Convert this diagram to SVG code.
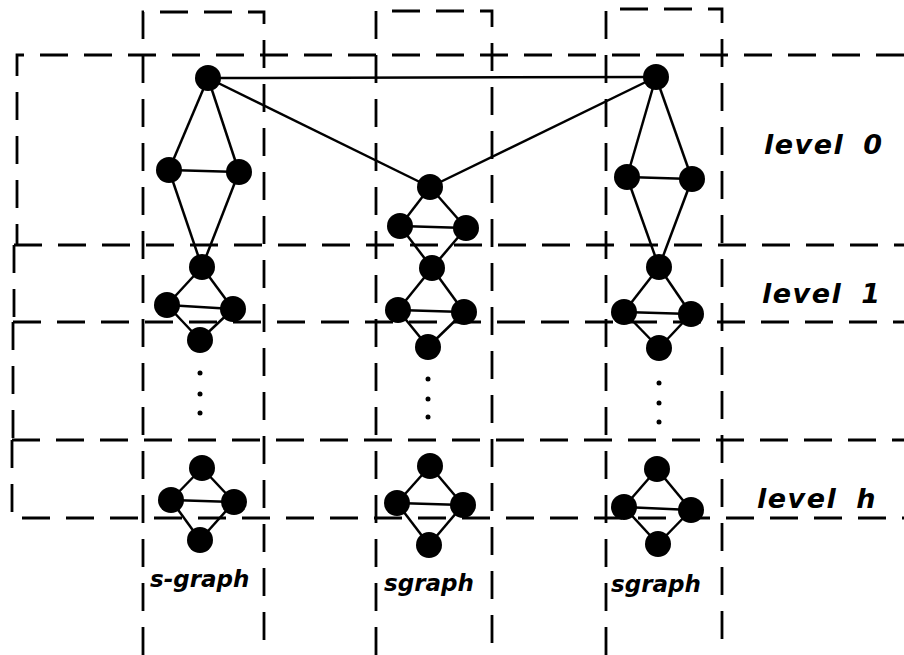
<svg xmlns="http://www.w3.org/2000/svg" width="904" height="655" viewBox="0 0 904 655">
  <style>
    .frame { fill: none; stroke: #000; stroke-width: 2.8; stroke-dasharray: 28 16; }
    .edge { stroke: #000; stroke-width: 2.5; fill: none; }
    .node { fill: #000; }
    .dot { fill: #000; }
    .lvl { font-family: "DejaVu Sans", "Liberation Sans", sans-serif; font-style: oblique; font-weight: bold; font-size: 27px; letter-spacing: 1.5px; word-spacing: 8px; fill: #000; }
    .sg { font-family: "DejaVu Sans", "Liberation Sans", sans-serif; font-style: oblique; font-weight: bold; font-size: 23px; fill: #000; }
  </style>

  <!-- level bands (open towards the right) -->
  <g id="bands">
    <path class="frame" d="M904,55 H17 V245"/>
    <path class="frame" d="M14,245 H904"/>
    <path class="frame" d="M14,245 V322"/>
    <path class="frame" d="M13,322 H904"/>
    <path class="frame" d="M13,322 V440"/>
    <path class="frame" d="M12,440 H904"/>
    <path class="frame" d="M12,440 V518 H904"/>
  </g>

  <!-- s-graph columns (open towards the bottom) -->
  <g id="columns">
    <path class="frame" d="M143,655 V12 H264 V655"/>
    <path class="frame" d="M376,655 V11 H492 V655"/>
    <path class="frame" d="M606,655 V9 H722 V655"/>
  </g>

  <g id="connectors">
    <!-- level 0 links between the s-graphs -->
    <line class="edge" x1="208" y1="78" x2="656" y2="77"/>
    <line class="edge" x1="208" y1="78" x2="430" y2="187"/>
    <line class="edge" x1="656" y1="77" x2="430" y2="187"/>
    <!-- column 1, level 0 -->
    <line class="edge" x1="208" y1="78" x2="169" y2="170"/>
    <line class="edge" x1="208" y1="78" x2="239" y2="172"/>
    <line class="edge" x1="169" y1="170" x2="239" y2="172"/>
    <line class="edge" x1="169" y1="170" x2="202" y2="267"/>
    <line class="edge" x1="239" y1="172" x2="202" y2="267"/>
    <!-- column 1, level 1 -->
    <line class="edge" x1="202" y1="267" x2="167" y2="305"/>
    <line class="edge" x1="202" y1="267" x2="233" y2="309"/>
    <line class="edge" x1="167" y1="305" x2="233" y2="309"/>
    <line class="edge" x1="167" y1="305" x2="200" y2="340"/>
    <line class="edge" x1="233" y1="309" x2="200" y2="340"/>
    <!-- column 1, level h -->
    <line class="edge" x1="202" y1="468" x2="171" y2="500"/>
    <line class="edge" x1="202" y1="468" x2="234" y2="502"/>
    <line class="edge" x1="171" y1="500" x2="234" y2="502"/>
    <line class="edge" x1="171" y1="500" x2="200" y2="540"/>
    <line class="edge" x1="234" y1="502" x2="200" y2="540"/>
    <!-- column 2, level 0 -->
    <line class="edge" x1="430" y1="187" x2="400" y2="226"/>
    <line class="edge" x1="430" y1="187" x2="466" y2="228"/>
    <line class="edge" x1="400" y1="226" x2="466" y2="228"/>
    <line class="edge" x1="400" y1="226" x2="432" y2="268"/>
    <line class="edge" x1="466" y1="228" x2="432" y2="268"/>
    <!-- column 2, level 1 -->
    <line class="edge" x1="432" y1="268" x2="398" y2="310"/>
    <line class="edge" x1="432" y1="268" x2="464" y2="312"/>
    <line class="edge" x1="398" y1="310" x2="464" y2="312"/>
    <line class="edge" x1="398" y1="310" x2="428" y2="347"/>
    <line class="edge" x1="464" y1="312" x2="428" y2="347"/>
    <!-- column 2, level h -->
    <line class="edge" x1="430" y1="466" x2="397" y2="503"/>
    <line class="edge" x1="430" y1="466" x2="463" y2="505"/>
    <line class="edge" x1="397" y1="503" x2="463" y2="505"/>
    <line class="edge" x1="397" y1="503" x2="429" y2="545"/>
    <line class="edge" x1="463" y1="505" x2="429" y2="545"/>
    <!-- column 3, level 0 -->
    <line class="edge" x1="656" y1="77" x2="627" y2="177"/>
    <line class="edge" x1="656" y1="77" x2="692" y2="179"/>
    <line class="edge" x1="627" y1="177" x2="692" y2="179"/>
    <line class="edge" x1="627" y1="177" x2="659" y2="267"/>
    <line class="edge" x1="692" y1="179" x2="659" y2="267"/>
    <!-- column 3, level 1 -->
    <line class="edge" x1="659" y1="267" x2="624" y2="312"/>
    <line class="edge" x1="659" y1="267" x2="691" y2="314"/>
    <line class="edge" x1="624" y1="312" x2="691" y2="314"/>
    <line class="edge" x1="624" y1="312" x2="659" y2="348"/>
    <line class="edge" x1="691" y1="314" x2="659" y2="348"/>
    <!-- column 3, level h -->
    <line class="edge" x1="657" y1="469" x2="624" y2="507"/>
    <line class="edge" x1="657" y1="469" x2="691" y2="510"/>
    <line class="edge" x1="624" y1="507" x2="691" y2="510"/>
    <line class="edge" x1="624" y1="507" x2="658" y2="544"/>
    <line class="edge" x1="691" y1="510" x2="658" y2="544"/>
  </g>

  <!-- column 1 -->
  <g id="n1-0t"><circle class="node" cx="208" cy="78" r="13"/></g>
  <g id="n1-0l"><circle class="node" cx="169" cy="170" r="13"/></g>
  <g id="n1-0r"><circle class="node" cx="239" cy="172" r="13"/></g>
  <g id="n1-1t"><circle class="node" cx="202" cy="267" r="13"/></g>
  <g id="n1-1l"><circle class="node" cx="167" cy="305" r="13"/></g>
  <g id="n1-1r"><circle class="node" cx="233" cy="309" r="13"/></g>
  <g id="n1-1b"><circle class="node" cx="200" cy="340" r="13"/></g>
  <g id="n1-ht"><circle class="node" cx="202" cy="468" r="13"/></g>
  <g id="n1-hl"><circle class="node" cx="171" cy="500" r="13"/></g>
  <g id="n1-hr"><circle class="node" cx="234" cy="502" r="13"/></g>
  <g id="n1-hb"><circle class="node" cx="200" cy="540" r="13"/></g>

  <!-- column 2 -->
  <g id="n2-0t"><circle class="node" cx="430" cy="187" r="13"/></g>
  <g id="n2-0l"><circle class="node" cx="400" cy="226" r="13"/></g>
  <g id="n2-0r"><circle class="node" cx="466" cy="228" r="13"/></g>
  <g id="n2-1t"><circle class="node" cx="432" cy="268" r="13"/></g>
  <g id="n2-1l"><circle class="node" cx="398" cy="310" r="13"/></g>
  <g id="n2-1r"><circle class="node" cx="464" cy="312" r="13"/></g>
  <g id="n2-1b"><circle class="node" cx="428" cy="347" r="13"/></g>
  <g id="n2-ht"><circle class="node" cx="430" cy="466" r="13"/></g>
  <g id="n2-hl"><circle class="node" cx="397" cy="503" r="13"/></g>
  <g id="n2-hr"><circle class="node" cx="463" cy="505" r="13"/></g>
  <g id="n2-hb"><circle class="node" cx="429" cy="545" r="13"/></g>

  <!-- column 3 -->
  <g id="n3-0t"><circle class="node" cx="656" cy="77" r="13"/></g>
  <g id="n3-0l"><circle class="node" cx="627" cy="177" r="13"/></g>
  <g id="n3-0r"><circle class="node" cx="692" cy="179" r="13"/></g>
  <g id="n3-1t"><circle class="node" cx="659" cy="267" r="13"/></g>
  <g id="n3-1l"><circle class="node" cx="624" cy="312" r="13"/></g>
  <g id="n3-1r"><circle class="node" cx="691" cy="314" r="13"/></g>
  <g id="n3-1b"><circle class="node" cx="659" cy="348" r="13"/></g>
  <g id="n3-ht"><circle class="node" cx="657" cy="469" r="13"/></g>
  <g id="n3-hl"><circle class="node" cx="624" cy="507" r="13"/></g>
  <g id="n3-hr"><circle class="node" cx="691" cy="510" r="13"/></g>
  <g id="n3-hb"><circle class="node" cx="658" cy="544" r="13"/></g>

  <!-- ellipsis between level 1 and level h -->
  <g id="ellipses">
    <circle class="dot" cx="200" cy="373" r="2.5"/>
    <circle class="dot" cx="200" cy="394" r="2.5"/>
    <circle class="dot" cx="200" cy="413" r="2.5"/>
    <circle class="dot" cx="428" cy="379" r="2.5"/>
    <circle class="dot" cx="428" cy="399" r="2.5"/>
    <circle class="dot" cx="428" cy="417" r="2.5"/>
    <circle class="dot" cx="659" cy="383" r="2.5"/>
    <circle class="dot" cx="659" cy="403" r="2.5"/>
    <circle class="dot" cx="659" cy="422" r="2.5"/>
  </g>

  <g id="labels">
    <text class="lvl" x="764" y="154">level 0</text>
    <text class="lvl" x="762" y="303">level 1</text>
    <text class="lvl" x="757" y="508">level h</text>
    <text class="sg" x="150" y="587">s-graph</text>
    <text class="sg" x="384" y="591">sgraph</text>
    <text class="sg" x="611" y="592">sgraph</text>
  </g>
</svg>
